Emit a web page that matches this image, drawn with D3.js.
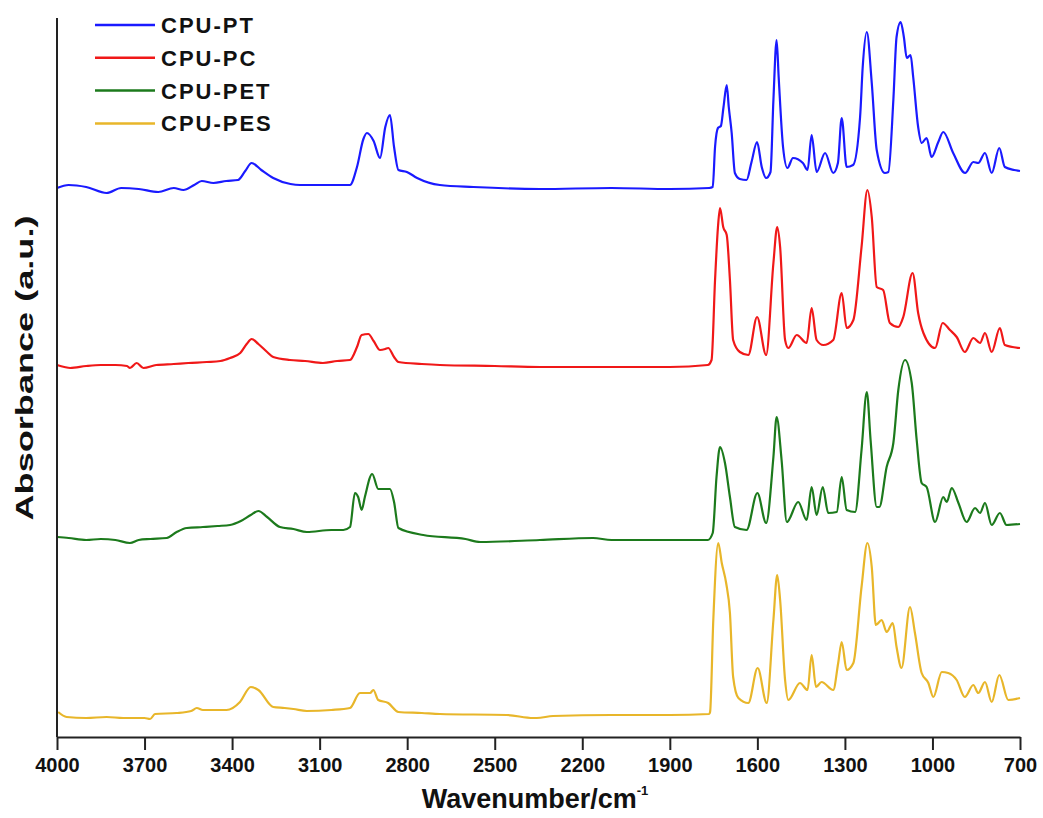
<!DOCTYPE html>
<html>
<head>
<meta charset="utf-8">
<script src="https://cdn.jsdelivr.net/npm/d3@7"></script>
<style>
  body { margin: 0; background: #fff; }
  #chart svg { display: block; }
  .tick text { font-family: "Liberation Sans Narrow", "Arial Narrow", "Liberation Sans", sans-serif; font-weight: bold; }
</style>
</head>
<body>
<div id="chart"></div>
<script>
// Series names and colours
const seriesNames = ["CPU-PT", "CPU-PC", "CPU-PET", "CPU-PES"];
const seriesColors = ["#1a1aff", "#f01818", "#1c7a1c", "#e8b62a"];

// Tick labels on the wavenumber axis
const xTicks = [4000, 3700, 3400, 3100, 2800, 2500, 2200, 1900, 1600, 1300, 1000, 700];

// Spectra: [wavenumber, absorbance (a.u., stacked)]
const cpuPT = [
  [4000, 5.49], [3960, 5.52], [3900, 5.50], [3830, 5.44], [3780, 5.49], [3720, 5.48], [3653, 5.45],
  [3600, 5.49], [3567, 5.47], [3530, 5.52], [3504, 5.56], [3464, 5.54], [3420, 5.56], [3380, 5.57],
  [3355, 5.66], [3333, 5.74], [3300, 5.67], [3259, 5.59], [3200, 5.53], [3167, 5.52], [3050, 5.52],
  [2996, 5.52], [2972, 5.70], [2950, 5.98], [2938, 6.04], [2915, 5.96], [2893, 5.79], [2875, 6.10],
  [2859, 6.22], [2845, 5.90], [2830, 5.67], [2801, 5.65], [2766, 5.59], [2688, 5.52], [2573, 5.50],
  [2345, 5.48], [2100, 5.49], [1900, 5.48], [1765, 5.49], [1753, 5.50], [1745, 5.90], [1735, 6.09],
  [1725, 6.11], [1716, 6.30], [1705, 6.52], [1698, 6.30], [1688, 6.04], [1677, 5.64], [1660, 5.58],
  [1637, 5.57], [1620, 5.75], [1601, 5.95], [1585, 5.70], [1570, 5.59], [1555, 5.65], [1545, 6.37],
  [1534, 6.97], [1527, 6.60], [1512, 5.90], [1497, 5.69], [1478, 5.79], [1444, 5.74], [1428, 5.67],
  [1414, 6.02], [1397, 5.65], [1368, 5.84], [1340, 5.64], [1324, 5.74], [1311, 6.19], [1294, 5.70],
  [1272, 5.72], [1248, 6.20], [1239, 6.70], [1225, 7.05], [1208, 6.54], [1191, 5.87], [1163, 5.64],
  [1151, 5.65], [1134, 6.37], [1123, 7.00], [1109, 7.15], [1098, 7.00], [1088, 6.79], [1075, 6.82],
  [1066, 6.60], [1049, 6.10], [1037, 5.94], [1020, 5.99], [1003, 5.80], [980, 5.95], [963, 6.05],
  [929, 5.84], [888, 5.64], [860, 5.75], [843, 5.74], [820, 5.84], [797, 5.64], [771, 5.89],
  [752, 5.70], [720, 5.67], [700, 5.66]
];

const cpuPC = [
  [4000, 3.72], [3975, 3.70], [3955, 3.69], [3900, 3.71], [3850, 3.72], [3800, 3.72], [3760, 3.71],
  [3750, 3.69], [3727, 3.74], [3704, 3.69], [3660, 3.72], [3600, 3.73], [3550, 3.74], [3487, 3.75],
  [3440, 3.76], [3407, 3.79], [3372, 3.84], [3350, 3.93], [3333, 3.98], [3310, 3.93], [3280, 3.85],
  [3259, 3.80], [3202, 3.77], [3150, 3.76], [3089, 3.74], [3040, 3.76], [2996, 3.77], [2972, 3.90],
  [2956, 4.02], [2933, 4.03], [2915, 3.96], [2893, 3.87], [2875, 3.88], [2865, 3.89], [2845, 3.80],
  [2830, 3.75], [2750, 3.73], [2688, 3.72], [2500, 3.71], [2345, 3.70], [2200, 3.70], [1900, 3.70],
  [1770, 3.72], [1757, 3.77], [1745, 4.57], [1735, 5.10], [1728, 5.29], [1717, 5.10], [1705, 5.02],
  [1694, 4.57], [1683, 3.97], [1660, 3.85], [1631, 3.82], [1601, 4.20], [1570, 3.82], [1545, 4.74],
  [1532, 5.10], [1522, 4.90], [1505, 3.97], [1494, 3.89], [1465, 4.02], [1431, 3.94], [1414, 4.29],
  [1397, 3.97], [1374, 3.92], [1340, 3.97], [1311, 4.44], [1294, 4.09], [1271, 4.17], [1243, 4.90],
  [1223, 5.47], [1208, 5.20], [1191, 4.50], [1169, 4.47], [1146, 4.14], [1117, 4.10], [1100, 4.20],
  [1068, 4.64], [1049, 4.24], [1031, 4.04], [991, 3.89], [965, 4.14], [940, 4.07], [917, 4.00],
  [889, 3.85], [860, 3.99], [837, 3.94], [820, 4.04], [797, 3.85], [769, 4.09], [752, 3.92],
  [700, 3.89]
];

const cpuPET = [
  [4000, 2.00], [3960, 1.99], [3900, 1.97], [3850, 1.98], [3800, 1.97], [3750, 1.94], [3720, 1.97],
  [3680, 1.98], [3624, 1.99], [3590, 2.05], [3555, 2.09], [3500, 2.10], [3450, 2.11], [3407, 2.12],
  [3370, 2.16], [3336, 2.22], [3310, 2.26], [3280, 2.20], [3236, 2.10], [3190, 2.08], [3144, 2.05],
  [3060, 2.07], [3019, 2.07], [2996, 2.10], [2979, 2.44], [2968, 2.40], [2956, 2.27], [2945, 2.40],
  [2920, 2.63], [2899, 2.48], [2880, 2.48], [2859, 2.48], [2845, 2.35], [2830, 2.09], [2745, 2.02],
  [2600, 1.98], [2550, 1.95], [2345, 1.97], [2163, 1.99], [2100, 1.97], [1900, 1.97], [1770, 1.97],
  [1753, 2.04], [1740, 2.60], [1728, 2.90], [1711, 2.74], [1694, 2.40], [1677, 2.10], [1637, 2.07],
  [1600, 2.44], [1570, 2.14], [1545, 2.80], [1534, 3.20], [1517, 2.77], [1499, 2.15], [1460, 2.35],
  [1431, 2.17], [1414, 2.50], [1397, 2.22], [1376, 2.50], [1357, 2.24], [1328, 2.25], [1311, 2.60],
  [1294, 2.27], [1265, 2.25], [1243, 2.87], [1225, 3.45], [1212, 2.97], [1191, 2.30], [1182, 2.30],
  [1157, 2.70], [1134, 2.94], [1117, 3.47], [1094, 3.77], [1071, 3.54], [1054, 2.97], [1037, 2.54],
  [1020, 2.50], [991, 2.15], [963, 2.40], [951, 2.35], [934, 2.49], [911, 2.34], [883, 2.15],
  [854, 2.29], [837, 2.24], [820, 2.34], [797, 2.12], [769, 2.24], [746, 2.12], [700, 2.13]
];

const cpuPES = [
  [3996, 0.25], [3967, 0.20], [3900, 0.19], [3830, 0.20], [3773, 0.19], [3700, 0.19], [3681, 0.18],
  [3664, 0.23], [3590, 0.24], [3540, 0.26], [3521, 0.29], [3500, 0.27], [3419, 0.27], [3373, 0.35],
  [3336, 0.50], [3310, 0.47], [3259, 0.30], [3220, 0.29], [3190, 0.28], [3144, 0.26], [3060, 0.27],
  [2996, 0.29], [2962, 0.44], [2927, 0.44], [2916, 0.47], [2899, 0.37], [2865, 0.34], [2830, 0.25],
  [2750, 0.24], [2688, 0.23], [2459, 0.22], [2368, 0.19], [2356, 0.19], [2300, 0.21], [2100, 0.22],
  [1900, 0.22], [1765, 0.23], [1762, 0.25], [1751, 1.17], [1734, 1.94], [1722, 1.74], [1707, 1.54],
  [1694, 1.24], [1683, 0.60], [1665, 0.39], [1631, 0.34], [1599, 0.69], [1568, 0.34], [1545, 1.17],
  [1532, 1.62], [1522, 1.37], [1505, 0.57], [1494, 0.37], [1454, 0.54], [1428, 0.47], [1414, 0.82],
  [1399, 0.50], [1380, 0.55], [1340, 0.47], [1323, 0.74], [1311, 0.95], [1294, 0.67], [1271, 0.74],
  [1243, 1.50], [1223, 1.94], [1208, 1.70], [1194, 1.12], [1174, 1.17], [1157, 1.05], [1136, 1.14],
  [1123, 0.90], [1106, 0.69], [1077, 1.30], [1060, 1.04], [1037, 0.64], [1014, 0.54], [997, 0.40],
  [968, 0.65], [946, 0.64], [917, 0.57], [889, 0.40], [860, 0.52], [843, 0.44], [820, 0.55],
  [797, 0.35], [771, 0.62], [740, 0.37], [700, 0.39]
];

const allSeries = [cpuPT, cpuPC, cpuPET, cpuPES];

// Layout
const width = 1043;
const height = 818;
const margin = { top: 18, right: 23, bottom: 81, left: 57 };

const svg = d3.select("#chart")
  .append("svg")
  .attr("width", width)
  .attr("height", height);

const x = d3.scaleLinear()
  .domain([4000, 700])
  .range([margin.left, width - margin.right]);

const y = d3.scaleLinear()
  .domain([0, 7.19])
  .range([height - margin.bottom, margin.top]);

// Spectra lines (rounded peaks)
const line = d3.line()
  .x(d => x(d[0]))
  .y(d => y(d[1]))
  .curve(d3.curveMonotoneX);

svg.append("g")
  .selectAll("path")
  .data(allSeries)
  .join("path")
  .attr("d", line)
  .attr("fill", "none")
  .attr("stroke", (d, i) => seriesColors[i])
  .attr("stroke-width", 2.2)
  .attr("stroke-linejoin", "round");

// Bottom axis
const xAxis = svg.append("g")
  .attr("transform", `translate(0,${height - margin.bottom})`)
  .call(d3.axisBottom(x).tickValues(xTicks).tickFormat(d3.format("d")).tickSize(13).tickPadding(8).tickSizeOuter(0));

xAxis.select(".domain").attr("stroke", "#222").attr("stroke-width", 2);
xAxis.selectAll(".tick line").attr("stroke", "#222").attr("stroke-width", 2);
xAxis.selectAll(".tick text").attr("font-size", 20).attr("fill", "#111");

// Left axis: a plain line, no ticks
svg.append("line")
  .attr("x1", margin.left).attr("x2", margin.left)
  .attr("y1", margin.top).attr("y2", height - margin.bottom)
  .attr("stroke", "#222")
  .attr("stroke-width", 2);

// Axis titles
const xTitle = svg.append("text")
  .attr("x", 535)
  .attr("y", 808)
  .attr("text-anchor", "middle")
  .attr("font-family", "'Liberation Sans Narrow', 'Arial Narrow', sans-serif")
  .attr("font-weight", "bold")
  .attr("font-size", 27)
  .attr("fill", "#111");
xTitle.append("tspan").text("Wavenumber/cm");
xTitle.append("tspan").attr("font-size", 13).attr("dy", -13).text("-1");

svg.append("text")
  .attr("transform", "translate(33,368) rotate(-90)")
  .attr("text-anchor", "middle")
  .attr("font-family", "'Liberation Sans', Arial, sans-serif")
  .attr("font-weight", "bold")
  .attr("font-size", 23)
  .attr("textLength", 305)
  .attr("lengthAdjust", "spacingAndGlyphs")
  .attr("fill", "#111")
  .text("Absorbance (a.u.)");

// Legend
const legend = svg.append("g")
  .selectAll("g")
  .data(seriesNames)
  .join("g")
  .attr("transform", (d, i) => `translate(95,${25 + i * 32.8})`);

legend.append("line")
  .attr("x1", 0).attr("x2", 60)
  .attr("stroke", (d, i) => seriesColors[i])
  .attr("stroke-width", 2.5);

legend.append("text")
  .attr("x", 66)
  .attr("dy", "0.36em")
  .attr("font-family", "'Liberation Sans', Arial, sans-serif")
  .attr("font-weight", "bold")
  .attr("font-size", 22)
  .attr("letter-spacing", 2)
  .attr("fill", "#111")
  .text(d => d);
</script>
</body>
</html>
